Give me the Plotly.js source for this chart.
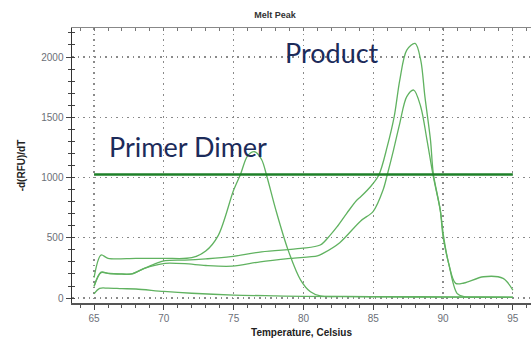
<!DOCTYPE html>
<html>
<head>
<meta charset="utf-8">
<script src="https://cdn.plot.ly/plotly-3.0.1.min.js"></script>
<style>html,body{margin:0;padding:0;background:#fff;}#chart{width:531px;height:347px;}</style>
</head>
<body>
<div id="chart"></div>
<script>
// Primer dimer melt curve
const dimerT = [65.0, 65.5, 66.0, 68.0, 70.0, 72.0, 73.0, 73.9, 75.0, 75.5, 76.0, 76.5, 77.0, 77.4, 78.0, 78.9, 79.8, 80.5, 81.2, 83.0, 86.0, 90.0, 95.0];
const dimerV = [170, 357, 330, 330, 330, 335, 390, 520, 896, 1030, 1180, 1214, 1150, 1000, 740, 398, 149, 52, 18, 14, 12, 10, 8];

// Product (tall peak)
const prodAT = [65.0, 65.5, 66.0, 67.0, 67.7, 68.6, 69.5, 70.1, 71.5, 73.0, 74.8, 77.0, 79.8, 81.2, 81.9, 82.4, 83.1, 83.8, 84.1, 84.8, 85.4, 86.0, 86.5, 86.9, 87.4, 88.0, 88.4, 88.7, 89.1, 89.3, 89.8, 90.0, 90.4, 91.0, 91.5, 93.0, 95.0];
const prodAV = [100, 215, 205, 200, 200, 246, 290, 310, 315, 325, 343, 384, 412, 440, 520, 590, 703, 810, 841, 924, 1021, 1256, 1505, 1809, 2058, 2113, 1975, 1671, 1311, 1035, 730, 509, 288, 39, 11, 8, 6];

// Product (short peak)
const prodBT = [65.0, 65.5, 66.0, 67.0, 67.7, 68.6, 69.5, 70.1, 71.5, 73.0, 74.9, 76.9, 79.05, 81.0, 81.4, 82.6, 84.1, 85.0, 85.7, 86.0, 86.45, 86.9, 87.4, 87.9, 88.4, 88.85, 89.3, 89.8, 90.04, 90.4, 90.9, 91.5, 92.9, 94.3, 95.0];
const prodBV = [95, 210, 205, 198, 200, 246, 275, 288, 285, 270, 265, 301, 329, 350, 371, 460, 640, 720, 896, 1021, 1228, 1450, 1671, 1726, 1588, 1311, 1010, 730, 509, 288, 122, 125, 177, 163, 66];

// Baseline (no template)
const baseT = [65.0, 65.4, 66.0, 67.0, 68.0, 70.0, 72.0, 75.0, 78.0, 80.0, 85.0, 90.0, 95.0];
const baseV = [35, 80, 82, 78, 75, 55, 40, 25, 18, 14, 10, 8, 5];

// Threshold line
const thresholdT = [65, 95];
const thresholdV = [1025, 1025];

const xTickVals = [65, 70, 75, 80, 85, 90, 95];
const xTickText = ['65', '70', '75', '80', '85', '90', '95'];
const yTickVals = [0, 500, 1000, 1500, 2000];
const yTickText = ['0', '500', '1000', '1500', '2000'];

const curveColor = 'rgb(96,178,96)';
const curveLine = {color: curveColor, width: 1.3, shape: 'spline', smoothing: 0.9};

const traces = [
  {x: baseT, y: baseV, mode: 'lines', line: curveLine, hoverinfo: 'skip'},
  {x: dimerT, y: dimerV, mode: 'lines', line: curveLine, hoverinfo: 'skip'},
  {x: prodAT, y: prodAV, mode: 'lines', line: curveLine, hoverinfo: 'skip'},
  {x: prodBT, y: prodBV, mode: 'lines', line: curveLine, hoverinfo: 'skip'},
  {x: thresholdT, y: thresholdV, mode: 'lines', line: {color: 'rgb(30,128,40)', width: 2.5}, hoverinfo: 'skip'},
  {x: [70], y: [500], xaxis: 'x2', yaxis: 'y2', mode: 'markers', marker: {opacity: 0}, hoverinfo: 'skip'}
];

const xr = [63.42, 96.3];
const yr = [-41, 2241];
const tickFont = {family: 'Liberation Sans, Arial, sans-serif', size: 10, color: '#6b6f78'};
const titleFont = {family: 'Liberation Sans, Arial, sans-serif', size: 10, color: '#222', weight: 'bold'};

const layout = {
  width: 531, height: 347,
  margin: {l: 72, r: 0, t: 28, b: 44},
  paper_bgcolor: '#fff', plot_bgcolor: '#fff',
  showlegend: false,
  title: {text: '<b>Melt Peak</b>', x: 275/531, xanchor: 'center', y: 1 - 15/347, yanchor: 'middle',
          font: {family: 'Liberation Sans, Arial, sans-serif', size: 9, color: '#333'}},
  xaxis: {
    range: xr, tickvals: xTickVals, ticktext: xTickText, tickfont: tickFont,
    ticks: 'outside', ticklen: 5, tickcolor: '#444', tickwidth: 1,
    showline: true, linecolor: '#555', linewidth: 1.5,
    showgrid: true, gridcolor: '#8a8a8a', griddash: '1.5px,4px', gridwidth: 1.2,
    zeroline: false,
    minor: {dtick: 1, tick0: 0, ticks: 'outside', ticklen: 3, tickcolor: '#555', showgrid: false},
    title: {text: 'Temperature, Celsius', font: titleFont, standoff: 6}
  },
  yaxis: {
    range: yr, tickvals: yTickVals, ticktext: yTickText, tickfont: tickFont,
    ticks: 'outside', ticklen: 5, tickcolor: '#444', tickwidth: 1,
    showline: true, linecolor: '#333', linewidth: 1.5,
    showgrid: true, gridcolor: '#8a8a8a', griddash: '1.5px,4px', gridwidth: 1.2,
    zeroline: false,
    minor: {dtick: 100, tick0: 0, ticks: 'outside', ticklen: 3, tickcolor: '#444', showgrid: false},
    title: {text: '-d(RFU)/dT', font: titleFont, standoff: 14}
  },
  xaxis2: {
    overlaying: 'x', side: 'top', anchor: 'y2', range: xr, showticklabels: false,
    ticks: 'inside', ticklen: 3, tickcolor: '#777', dtick: 1, tick0: 0,
    showline: true, linecolor: '#888', linewidth: 1.5, showgrid: false, zeroline: false
  },
  yaxis2: {
    overlaying: 'y', side: 'left', anchor: 'x2', range: yr, showticklabels: false,
    ticks: 'inside', ticklen: 3, tickcolor: '#444', dtick: 100, tick0: 0,
    showline: false, showgrid: false, zeroline: false
  },
  annotations: [
    {x: 65.93, y: 1261, xref: 'x', yref: 'y', xanchor: 'left', yanchor: 'middle', showarrow: false,
     text: 'Primer Dimer', font: {family: 'Lato, sans-serif', size: 27, color: '#1c2b5a'}},
    {x: 78.54, y: 2037, xref: 'x', yref: 'y', xanchor: 'left', yanchor: 'middle', showarrow: false,
     text: 'Product', font: {family: 'Lato, sans-serif', size: 27, color: '#1c2b5a'}}
  ]
};

Plotly.newPlot('chart', traces, layout, {staticPlot: true, displayModeBar: false});
</script>
</body>
</html>
